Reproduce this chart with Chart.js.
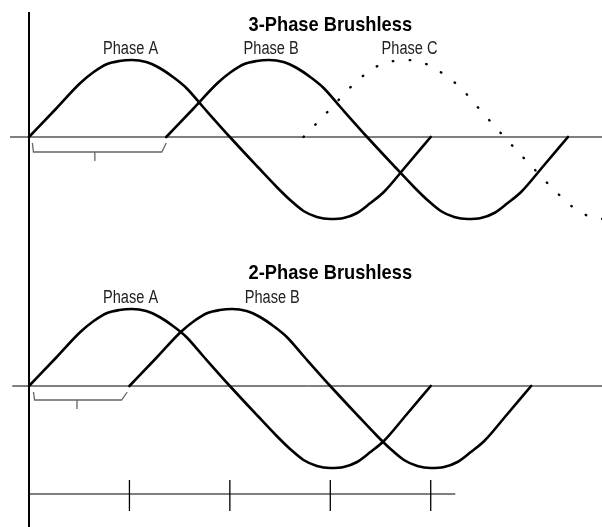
<!DOCTYPE html>
<html lang="en">
<head>
<meta charset="UTF-8">
<title>Brushless Phases</title>
<script src="https://cdn.jsdelivr.net/npm/chart.js@4"></script>
<style>
  body { margin: 0; background: #fff; }
  canvas { display: block; }
</style>
</head>
<body>
<canvas id="topChart" width="602" height="255"></canvas>
<canvas id="bottomChart" width="602" height="272"></canvas>
<script>
// wave level (above/below baseline), one per point below
const waveLevel = [0, 28, 54, 65, 73, 76, 77, 75, 69, 60, 49, 30, 0, -30, -50, -63, -74, -80, -82, -81, -76, -66, -55, -29, 0];

// 3-phase, electrical degrees
const topA = [0, 24, 46, 58, 70, 81, 92, 105, 117, 129, 141, 156, 180, 205, 222, 234, 246, 258, 270, 282, 294, 306, 318, 338, 360];
const topB = [123, 147, 169, 181, 193, 204, 215, 228, 240, 252, 264, 279, 303, 328, 345, 357, 369, 381, 393, 405, 417, 429, 441, 461, 483];
const topC = [246, 270, 292, 304, 316, 327, 338, 351, 363, 375, 387, 402, 426, 451, 468, 480, 492, 504, 516, 528];

// 2-phase, electrical degrees
const botA = [0, 24, 46, 58, 70, 81, 92, 105, 117, 129, 141, 156, 180, 205, 222, 234, 246, 258, 270, 282, 294, 306, 318, 338, 360];
const botB = [90, 114, 136, 148, 160, 171, 182, 195, 207, 219, 231, 246, 270, 295, 312, 324, 336, 348, 360, 372, 384, 396, 408, 428, 450];

const topTitle = '3-Phase Brushless';
const botTitle = '2-Phase Brushless';
const topLabels = ['Phase A', 'Phase B', 'Phase C'];
const topLabelX = [91, 217, 341];
const botLabels = ['Phase A', 'Phase B'];
const botLabelX = [91, 218];

// brackets under the baseline
const topBracketX = [3, 4, 119, 123];
const topBracketY = [-6, -15, -15, -6];
const topBracketTick = 59;
const botBracketX = [4, 5, 83, 88];
const botBracketY = [-6, -14, -14, -6];
const botBracketTick = 43;

// degree scale at the bottom
const scaleTicks = [90, 180, 270, 360];
const scaleEnd = 382;

const pts = (xs, ys) => xs.map((x, i) => ({ x: x, y: ys[i] }));

function wave(xs, dotted) {
  return {
    data: pts(xs, waveLevel),
    borderColor: '#000',
    borderWidth: dotted ? 2.4 : 2.6,
    borderDash: dotted ? [0.5, 16.5] : [],
    borderCapStyle: 'round',
    borderJoinStyle: 'round',
    cubicInterpolationMode: 'monotone',
    pointRadius: 0
  };
}

function seg(data, color, width) {
  return {
    data: data,
    borderColor: color,
    borderWidth: width,
    tension: 0,
    pointRadius: 0
  };
}

// text drawn at data positions, squeezed sideways to look like a narrow face
const textPlugin = {
  id: 'texts',
  afterDatasetsDraw(chart) {
    const ctx = chart.ctx;
    const xs = chart.scales.x, ys = chart.scales.y;
    chart.options.plugins.texts.forEach(t => {
      ctx.save();
      ctx.translate(xs.getPixelForValue(t.x), ys.getPixelForValue(t.y));
      ctx.scale(t.sx, 1);
      ctx.textAlign = 'center';
      ctx.textBaseline = 'alphabetic';
      ctx.font = t.font;
      ctx.fillStyle = t.color;
      ctx.fillText(t.text, 0, 0);
      ctx.restore();
    });
  }
};

const face = '"Liberation Sans", Arial, sans-serif';

function makeChart(id, datasets, yMin, yMax, texts) {
  return new Chart(document.getElementById(id), {
    type: 'line',
    data: { datasets: datasets },
    options: {
      responsive: false,
      animation: false,
      events: [],
      layout: { padding: 0 },
      plugins: { legend: { display: false }, tooltip: { enabled: false }, texts: texts },
      scales: {
        x: { type: 'linear', min: -26, max: 513.5, display: false },
        y: { type: 'linear', min: yMin, max: yMax, display: false }
      }
    },
    plugins: [textPlugin]
  });
}

// top chart: 3-phase
const topTexts = [{ text: topTitle, x: 270, y: 106, sx: 0.87, font: 'bold 21px ' + face, color: '#000' }]
  .concat(topLabels.map((l, i) => ({ text: l, x: topLabelX[i], y: 83, sx: 0.81, font: '18px ' + face, color: '#222' })));

makeChart('topChart', [
  seg([{ x: 0, y: 125 }, { x: 0, y: -118 }], '#000', 2),
  seg([{ x: -17, y: 0 }, { x: 520, y: 0 }], '#000', 1),
  seg(pts(topBracketX, topBracketY), '#666', 1.3),
  seg([{ x: topBracketTick, y: -15 }, { x: topBracketTick, y: -24 }], '#666', 1.3),
  wave(topA, false),
  wave(topB, false),
  wave(topC, true)
], -118, 137, topTexts);

// bottom chart: 2-phase
const botTexts = [{ text: botTitle, x: 270, y: 107, sx: 0.87, font: 'bold 21px ' + face, color: '#000' }]
  .concat(botLabels.map((l, i) => ({ text: l, x: botLabelX[i], y: 83, sx: 0.81, font: '18px ' + face, color: '#222' })));

const scaleSets = scaleTicks.map(t => seg([{ x: t, y: -94 }, { x: t, y: -125 }], '#000', 1.3));

makeChart('bottomChart', [
  seg([{ x: 0, y: 131 }, { x: 0, y: -141 }], '#000', 2),
  seg([{ x: -15, y: 0 }, { x: 520, y: 0 }], '#000', 1),
  seg(pts(botBracketX, botBracketY), '#666', 1.3),
  seg([{ x: botBracketTick, y: -14 }, { x: botBracketTick, y: -23 }], '#666', 1.3),
  seg([{ x: 0, y: -108 }, { x: scaleEnd, y: -108 }], '#000', 1.2)
].concat(scaleSets, [wave(botA, false), wave(botB, false)]), -141, 131, botTexts);
</script>
</body>
</html>
